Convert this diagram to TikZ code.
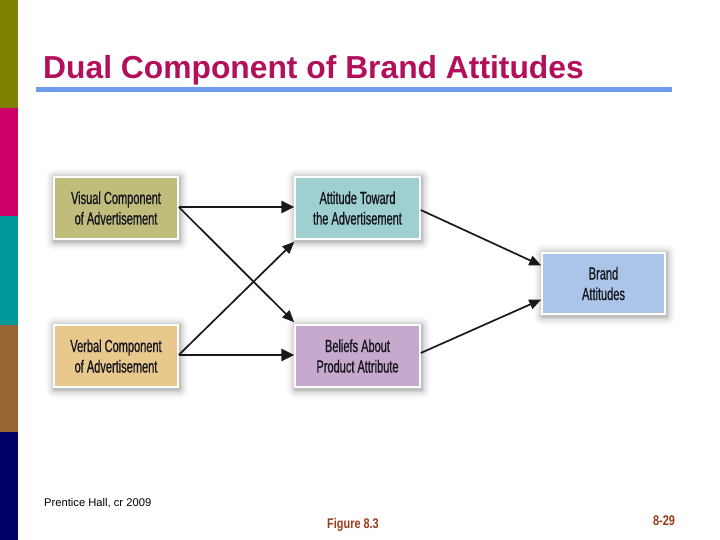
\documentclass[tikz,border=0pt]{standalone}
\usepackage{fontspec}
\setmainfont{Liberation Sans}
\newfontfamily\cond[FakeStretch=0.78]{Liberation Sans}
\newfontfamily\boxfont[FakeStretch=0.63,FakeBold=0.8]{Liberation Sans}
\usetikzlibrary{arrows.meta}
\definecolor{barA}{HTML}{808000}
\definecolor{barB}{HTML}{CC0066}
\definecolor{barC}{HTML}{009999}
\definecolor{barD}{HTML}{996633}
\definecolor{barE}{HTML}{000066}
\definecolor{titlec}{HTML}{B3105C}
\definecolor{rulec}{HTML}{6E9CEB}
\definecolor{visc}{HTML}{C0BD7C}
\definecolor{attc}{HTML}{9FD0D0}
\definecolor{verc}{HTML}{E9C88D}
\definecolor{belc}{HTML}{C6A9CD}
\definecolor{brac}{HTML}{AAC5E7}
\definecolor{figc}{HTML}{9B3B1B}
\definecolor{txtc}{HTML}{16161E}
\tikzset{
  box/.style={draw=white, line width=1.5pt, minimum width=124pt, minimum height=62pt,
    align=center, font=\boxfont\fontsize{17.5}{20.5}\selectfont, text=txtc, inner sep=0pt},
  thickarrow/.style={-{Triangle[length=13pt,width=12pt]}, line width=2.8pt, black!90},
  thinarrow/.style={-{Triangle[length=12pt,width=10pt]}, line width=1.7pt, black!90},
}
\newcommand{\glow}[1]{%
  \foreach \d/\o in {9/0.025,7/0.035,5/0.05,3/0.07,1.5/0.09}{%
    \fill[black,opacity=\o,rounded corners=\d pt] ([shift={(-\d pt+1pt,\d pt-1pt)}]#1.north west) rectangle ([shift={(\d pt+1pt,-\d pt-2pt)}]#1.south east);}}
\begin{document}
\begin{tikzpicture}[x=1pt,y=-1pt]
\useasboundingbox (0,0) rectangle (720,540);
\fill[white] (0,0) rectangle (720,540);
% side bar
\fill[barA] (0,0) rectangle (18,108);
\fill[barB] (0,108) rectangle (18,216);
\fill[barC] (0,216) rectangle (18,325);
\fill[barD] (0,325) rectangle (18,432);
\fill[barE] (0,432) rectangle (18,540);
% title
\node[anchor=base west, inner sep=0pt, text=titlec, font=\bfseries\fontsize{31.8}{34}\selectfont] (title) at (43,79) {Dual Component of Brand Attitudes};
\fill[rulec] (36,87.5) rectangle (672,92.5);
% boxes
\path (116,208) coordinate (pvis) (357.5,208) coordinate (patt) (116,356) coordinate (pver) (357.5,356) coordinate (pbel) (603.5,283.5) coordinate (pbra);
\path (pvis) node[minimum width=124pt, minimum height=62pt] (gvis) {};
\path (patt) node[minimum width=125pt, minimum height=62pt] (gatt) {};
\path (pver) node[minimum width=124pt, minimum height=62pt] (gver) {};
\path (pbel) node[minimum width=125pt, minimum height=62pt] (gbel) {};
\path (pbra) node[minimum width=123pt, minimum height=61pt] (gbra) {};
\glow{gvis}\glow{gatt}\glow{gver}\glow{gbel}\glow{gbra}
\node[box, fill=visc] (vis) at (pvis) {Visual Component\\of Advertisement};
\node[box, fill=attc, minimum width=125pt] (att) at (patt) {Attitude Toward\\the Advertisement};
\node[box, fill=verc] (ver) at (pver) {Verbal Component\\of Advertisement};
\node[box, fill=belc, minimum width=125pt] (bel) at (pbel) {Beliefs About\\Product Attribute};
\node[box, fill=brac, minimum width=123pt, minimum height=61pt] (bra) at (pbra) {Brand\\Attitudes};
% connectors
\coordinate (vo) at ([yshift=1pt]vis.east);
\coordinate (wo) at ([yshift=1pt]ver.east);
\draw[thickarrow] (vo) -- (vo -| att.west);
\draw[thickarrow] (wo) -- (wo -| bel.west);
\draw[thinarrow] (vo) -- ([shift={(0pt,2pt)}]bel.north west);
\draw[thinarrow] (wo) -- ([shift={(0pt,-2pt)}]att.south west);
\draw[thinarrow] ([yshift=-2pt]att.east) -- ([yshift=18pt]bra.west);
\draw[thinarrow] ([yshift=3pt]bel.east) -- ([yshift=-16pt]bra.west);
% footer
\node[anchor=base west, inner sep=0pt, font=\fontsize{11.2}{13}\selectfont] (credit) at (44,506) {Prentice Hall, cr 2009};
\node[anchor=base, inner sep=0pt, text=figc, font=\cond\bfseries\fontsize{14}{16}\selectfont] (fig) at (353,528) {Figure 8.3};
\node[anchor=base, inner sep=0pt, text=figc, font=\cond\bfseries\fontsize{14}{16}\selectfont] (pg) at (664,525) {8-29};
\end{tikzpicture}
\end{document}
